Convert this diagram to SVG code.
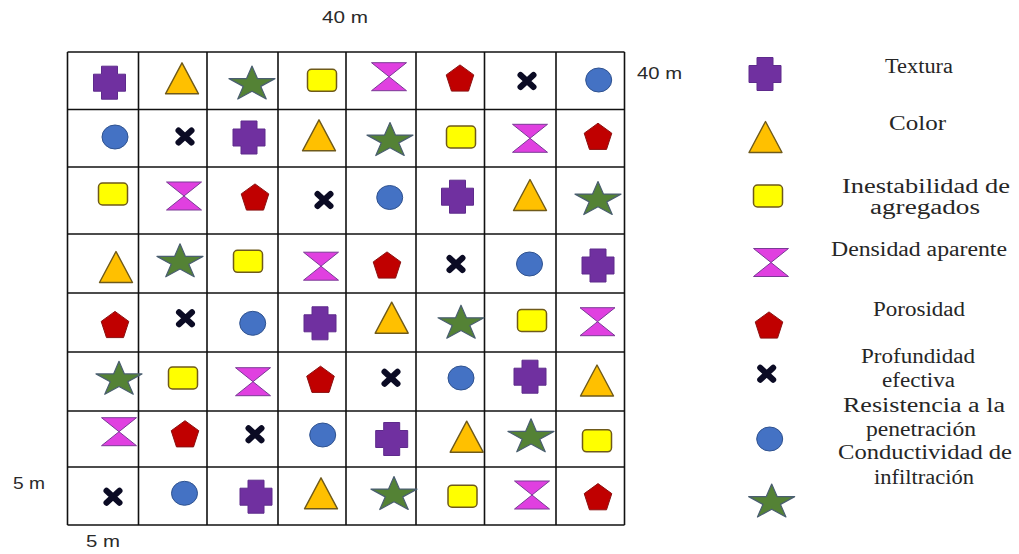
<svg xmlns="http://www.w3.org/2000/svg" xmlns:xlink="http://www.w3.org/1999/xlink" width="1019" height="554" viewBox="0 0 1019 554">
<style>
.grid line{stroke:#111;stroke-width:1.6}
.lbl{font-family:"Liberation Sans",Arial,sans-serif;font-size:17px;fill:#2a2a2a}
.leg{font-family:"Liberation Serif","Times New Roman",serif;font-size:20px;fill:#262626}
</style>
<defs>
<path id="plus" d="M-8,-16.5H8V-8.5H16V8.5H8V16.5H-8V8.5H-16V-8.5H-8Z" fill="#7030A0" stroke="#5E2A8C" stroke-width="1"/>
<path id="tri" d="M0,-15.5L16.5,15.5H-16.5Z" fill="#FFC000" stroke="#6F5A1A" stroke-width="1.4" stroke-linejoin="round"/>
<path id="star" d="M0,-16.5L5.43,-3.9L23,-3.9L8.79,3.89L14.23,16.5L0,8.71L-14.23,16.5L-8.79,3.89L-23,-3.9L-5.43,-3.9Z" fill="#548235" stroke="#4A5E70" stroke-width="1.2" stroke-linejoin="round"/>
<rect id="rect" x="-14.5" y="-11" width="29" height="22" rx="4" fill="#FFFF00" stroke="#6F5A1A" stroke-width="1.5"/>
<path id="hour" d="M-17.5,-14H17.5L0,0L17.5,14H-17.5L0,0Z" fill="#E040E0" stroke="#7A3A96" stroke-width="1" stroke-linejoin="round"/>
<path id="pent" d="M0,-13.1L13.79,-3.09L8.53,13.1H-8.53L-13.79,-3.09Z" fill="#C00000" stroke="#8B1010" stroke-width="1"/>
<path id="x" d="M-6.5,-6L6.5,6M-6.5,6L6.5,-6" stroke="#0B0B24" stroke-width="6" stroke-linecap="round" fill="none"/>
<ellipse id="circ" rx="13" ry="12" fill="#4472C4" stroke="#2F528F" stroke-width="1"/>
</defs>
<rect width="1019" height="554" fill="#ffffff"/>
<g class="grid" id="grid">
<line x1="67.5" y1="52" x2="67.5" y2="525"/>
<line x1="138.5" y1="52" x2="138.5" y2="525"/>
<line x1="207" y1="52" x2="207" y2="525"/>
<line x1="278" y1="52" x2="278" y2="525"/>
<line x1="346" y1="52" x2="346" y2="525"/>
<line x1="416" y1="52" x2="416" y2="525"/>
<line x1="484.5" y1="52" x2="484.5" y2="525"/>
<line x1="556" y1="52" x2="556" y2="525"/>
<line x1="624.5" y1="52" x2="624.5" y2="525"/>
<line x1="67.5" y1="52" x2="624.5" y2="52"/>
<line x1="67.5" y1="109.5" x2="624.5" y2="109.5"/>
<line x1="67.5" y1="167" x2="624.5" y2="167"/>
<line x1="67.5" y1="234" x2="624.5" y2="234"/>
<line x1="67.5" y1="293" x2="624.5" y2="293"/>
<line x1="67.5" y1="352" x2="624.5" y2="352"/>
<line x1="67.5" y1="411" x2="624.5" y2="411"/>
<line x1="67.5" y1="467" x2="624.5" y2="467"/>
<line x1="67.5" y1="525" x2="624.5" y2="525"/>
</g>
<g id="cells">
<g id="r1">
<use href="#plus" x="109.5" y="82.7"/><use href="#tri" x="182" y="78.3"/><use href="#star" x="252" y="82.5"/><use href="#rect" x="322" y="80.3"/><use href="#hour" x="389" y="76.7"/><use href="#pent" x="460" y="78"/><use href="#x" x="527" y="81"/><use href="#circ" x="598.7" y="80"/>
</g>
<g id="r2">
<use href="#circ" x="115" y="137"/><use href="#x" x="185" y="136.5"/><use href="#plus" x="249" y="137.5"/><use href="#tri" x="319" y="135.3"/><use href="#star" x="390" y="139"/><use href="#rect" x="461" y="137"/><use href="#hour" x="530" y="138.3"/><use href="#pent" x="598" y="136.3"/>
</g>
<g id="r3">
<use href="#rect" x="113" y="194"/><use href="#hour" x="184" y="196"/><use href="#pent" x="255" y="197"/><use href="#x" x="324" y="200"/><use href="#circ" x="389.7" y="197.5"/><use href="#plus" x="457.5" y="196.7"/><use href="#tri" x="530" y="195"/><use href="#star" x="598" y="198"/>
</g>
<g id="r4">
<use href="#tri" x="116" y="267"/><use href="#star" x="180" y="260.3"/><use href="#rect" x="248" y="261.3"/><use href="#hour" x="321" y="266.2"/><use href="#pent" x="387" y="265"/><use href="#x" x="456" y="264"/><use href="#circ" x="529.5" y="264"/><use href="#plus" x="598" y="265.5"/>
</g>
<g id="r5">
<use href="#pent" x="115" y="324.5"/><use href="#x" x="185.5" y="318.3"/><use href="#circ" x="252.7" y="323.3"/><use href="#plus" x="320" y="323.3"/><use href="#tri" x="391.7" y="317.7"/><use href="#star" x="461" y="321.7"/><use href="#rect" x="532" y="320.5"/><use href="#hour" x="597.5" y="321.7"/>
</g>
<g id="r6">
<use href="#star" x="119" y="377.8"/><use href="#rect" x="183" y="378"/><use href="#hour" x="253" y="381.7"/><use href="#pent" x="320.5" y="379.3"/><use href="#x" x="391" y="377.8"/><use href="#circ" x="461" y="378"/><use href="#plus" x="530" y="376.7"/><use href="#tri" x="597" y="380.5"/>
</g>
<g id="r7">
<use href="#hour" x="119" y="431.7"/><use href="#pent" x="185" y="433.8"/><use href="#x" x="255" y="434.2"/><use href="#circ" x="322.7" y="435"/><use href="#plus" x="391.7" y="439"/><use href="#tri" x="466.7" y="436.7"/><use href="#star" x="531" y="435.3"/><use href="#rect" x="597" y="440.8"/>
</g>
<g id="r8">
<use href="#x" x="113" y="496.7"/><use href="#circ" x="184.5" y="493.3"/><use href="#plus" x="256" y="496.7"/><use href="#tri" x="321" y="493.3"/><use href="#star" x="394" y="493"/><use href="#rect" x="462.5" y="496.2"/><use href="#hour" x="532" y="495"/><use href="#pent" x="598" y="496.7"/>
</g>
</g>
<g id="dims">
<text class="lbl" x="322" y="23" textLength="46" lengthAdjust="spacingAndGlyphs">40 m</text>
<text class="lbl" x="637" y="79" textLength="45" lengthAdjust="spacingAndGlyphs">40 m</text>
<text class="lbl" x="13" y="489" textLength="32" lengthAdjust="spacingAndGlyphs">5 m</text>
<text class="lbl" x="86" y="547" textLength="34" lengthAdjust="spacingAndGlyphs">5 m</text>
</g>
<g id="legend">
<g id="leg-textura"><use href="#plus" x="765" y="74"/><text class="leg" x="885" y="73" textLength="68" lengthAdjust="spacingAndGlyphs">Textura</text></g>
<g id="leg-color"><use href="#tri" x="765.5" y="137"/><text class="leg" x="889" y="130" textLength="57" lengthAdjust="spacingAndGlyphs">Color</text></g>
<g id="leg-inest"><use href="#rect" x="768" y="196"/><text class="leg" x="842" y="193" textLength="168" lengthAdjust="spacingAndGlyphs">Inestabilidad de</text><text class="leg" x="870" y="214" textLength="110" lengthAdjust="spacingAndGlyphs">agregados</text></g>
<g id="leg-dens"><use href="#hour" x="771" y="262.5"/><text class="leg" x="831" y="256" textLength="176" lengthAdjust="spacingAndGlyphs">Densidad aparente</text></g>
<g id="leg-poro"><use href="#pent" x="769" y="325"/><text class="leg" x="873" y="316" textLength="92" lengthAdjust="spacingAndGlyphs">Porosidad</text></g>
<g id="leg-prof"><use href="#x" x="766.7" y="373.7"/><text class="leg" x="861" y="363" textLength="114" lengthAdjust="spacingAndGlyphs">Profundidad</text><text class="leg" x="882" y="386.5" textLength="73" lengthAdjust="spacingAndGlyphs">efectiva</text></g>
<g id="leg-resis"><use href="#circ" x="769.7" y="439"/><text class="leg" x="843" y="411.5" textLength="162" lengthAdjust="spacingAndGlyphs">Resistencia a la</text><text class="leg" x="866" y="436" textLength="110" lengthAdjust="spacingAndGlyphs">penetración</text></g>
<g id="leg-cond"><use href="#star" x="771.7" y="500.5"/><text class="leg" x="838" y="459" textLength="174" lengthAdjust="spacingAndGlyphs">Conductividad de</text><text class="leg" x="874" y="484" textLength="100" lengthAdjust="spacingAndGlyphs">infiltración</text></g>
</g>
</svg>
